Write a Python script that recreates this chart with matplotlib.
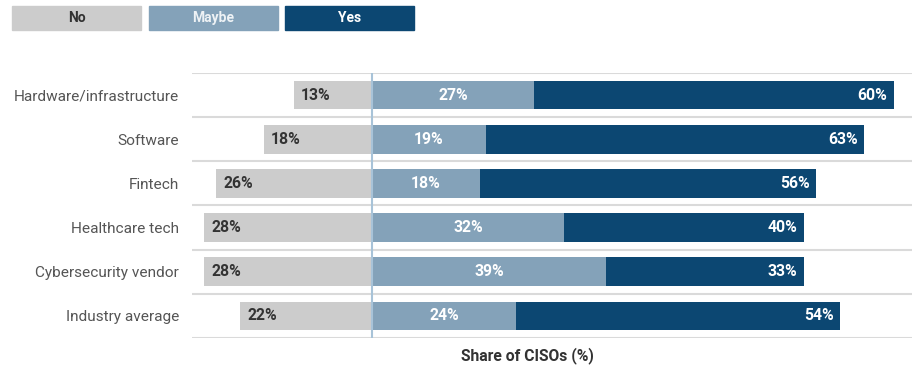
import matplotlib.pyplot as plt
import numpy as np

plt.rcParams['font.family'] = ['Roboto', 'DejaVu Sans']

categories = ["Hardware/infrastructure", "Software", "Fintech",
              "Healthcare tech", "Cybersecurity vendor", "Industry average"]
no_vals = [13, 18, 26, 28, 28, 22]
maybe_vals = [27, 19, 18, 32, 39, 24]
yes_vals = [60, 63, 56, 40, 33, 54]

c_no = "#cccccc"
c_maybe = "#84a2b9"
c_yes = "#0c4772"

fig = plt.figure(figsize=(9.19, 3.68), dpi=100)
W, H = 919, 368
ax = fig.add_axes([192 / W, 1 - 338 / H, 720 / W, 265 / H])

y = np.arange(len(categories))
no = np.array(no_vals)
maybe = np.array(maybe_vals)
yes = np.array(yes_vals)
h = 0.65

ax.barh(y, -no, height=h, color=c_no, zorder=2)
ax.barh(y, maybe, height=h, color=c_maybe, zorder=2)
ax.barh(y, yes, left=maybe, height=h, color=c_yes, zorder=2)

for i in range(len(categories)):
    ax.text(-no[i] + 1.2, y[i], f"{no[i]}%", va="center", ha="left",
            fontsize=11.3, fontweight="bold", color="#333333", zorder=3)
    ax.text(maybe[i] / 2, y[i], f"{maybe[i]}%", va="center", ha="center",
            fontsize=11.3, fontweight="bold", color="white", zorder=3)
    ax.text(maybe[i] + yes[i] - 1.1, y[i], f"{yes[i]}%", va="center",
            ha="right", fontsize=11.3, fontweight="bold", color="white", zorder=3)

# row separators and zero line
for b in np.arange(-0.5, len(categories), 1.0):
    ax.axhline(b, color="#dadada", lw=1.5, zorder=1)
ax.axvline(0, color="#a8c3d8", lw=1.5, zorder=4)

ax.set_xlim(-30, 90)
ax.set_ylim(len(categories) - 0.5, -0.5)
ax.set_yticks(y)
ax.set_yticklabels(categories, fontsize=11.1, color="#555555")
ax.tick_params(axis="y", length=0, pad=9.4)
ax.set_xticks([])
for s in ax.spines.values():
    s.set_visible(False)

fig.text(527 / W, 1 - 356 / H, "Share of CISOs (%)", ha="center", va="center",
         fontsize=11.3, fontweight="bold", color="#333333")

# legend boxes along the top
legend = [("No", c_no, "#333333", 12), ("Maybe", c_maybe, "#eef2f5", 149),
          ("Yes", c_yes, "white", 285)]
for label, col, tcol, x0 in legend:
    fig.patches.append(plt.Rectangle((x0 / W, 1 - 30 / H), 129 / W, 24 / H,
                                     transform=fig.transFigure, color=col))
    fig.text((x0 + 64.5) / W, 1 - 18 / H, label, ha="center", va="center",
             fontsize=10, fontweight="bold", color=tcol)

fig.savefig("out.png", dpi=100)
